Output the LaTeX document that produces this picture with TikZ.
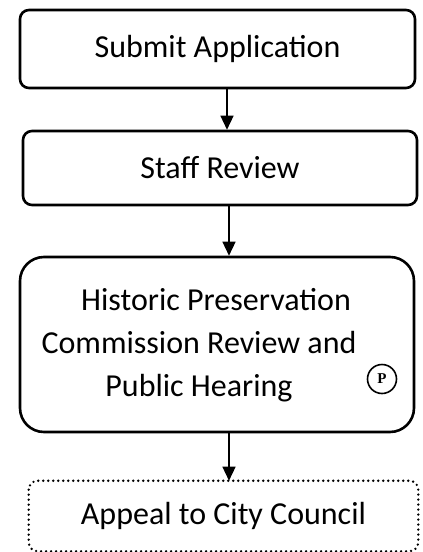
\documentclass[tikz,border=0pt]{standalone}
\usepackage{fontspec}
\setmainfont{Carlito}
\newfontfamily\pserif{Liberation Serif}
\usetikzlibrary{arrows.meta}
\begin{document}
\begin{tikzpicture}[x=1pt,y=-1pt,
  box/.style={draw,line width=2.6pt,rounded corners=9pt,inner sep=0pt,
    font=\fontsize{32}{43}\selectfont,align=center},
  arr/.style={line width=1.4pt,-{Triangle[length=14pt,width=13pt]}}]
\useasboundingbox (0,0) rectangle (423,552);
\node[box,minimum width=395pt,minimum height=78pt] (b1) at (217.5,49) {Submit Application};
\node[box,minimum width=394pt,minimum height=74pt] (b2) at (220,168) {Staff Review};
\node[box,rounded corners=24pt,minimum width=394pt,minimum height=175pt] (b3) at (217,344.5) {};
\node[font=\fontsize{32}{43}\selectfont,align=center,inner sep=0pt] (t3) at (199,345)
  {\hspace*{34pt}Historic Preservation\\Commission Review and\\Public Hearing};
\node[draw,circle,line width=1.6pt,inner sep=0pt,font=\pserif\bfseries\fontsize{15}{15}\selectfont,minimum size=29pt] (p) at (382,379) {P};
\node[box,draw=none,minimum width=387pt,minimum height=68pt] (b4) at (223.5,516) {Appeal to City Council};
\draw[line width=2.6pt,dash pattern=on 0pt off 5pt,line cap=round,rounded corners=9pt] (b4.north west) rectangle (b4.south east);
\path (b1.south) ++(9.5,0) coordinate (a1s);
\path (b2.south) ++(9,0) coordinate (a2s);
\path (b3.south) ++(12,0) coordinate (a3s);
\draw[arr] (a1s) -- (a1s |- b2.north);
\draw[arr] (a2s) -- (a2s |- b3.north);
\draw[arr] (a3s) -- (a3s |- b4.north);
\end{tikzpicture}
\end{document}
